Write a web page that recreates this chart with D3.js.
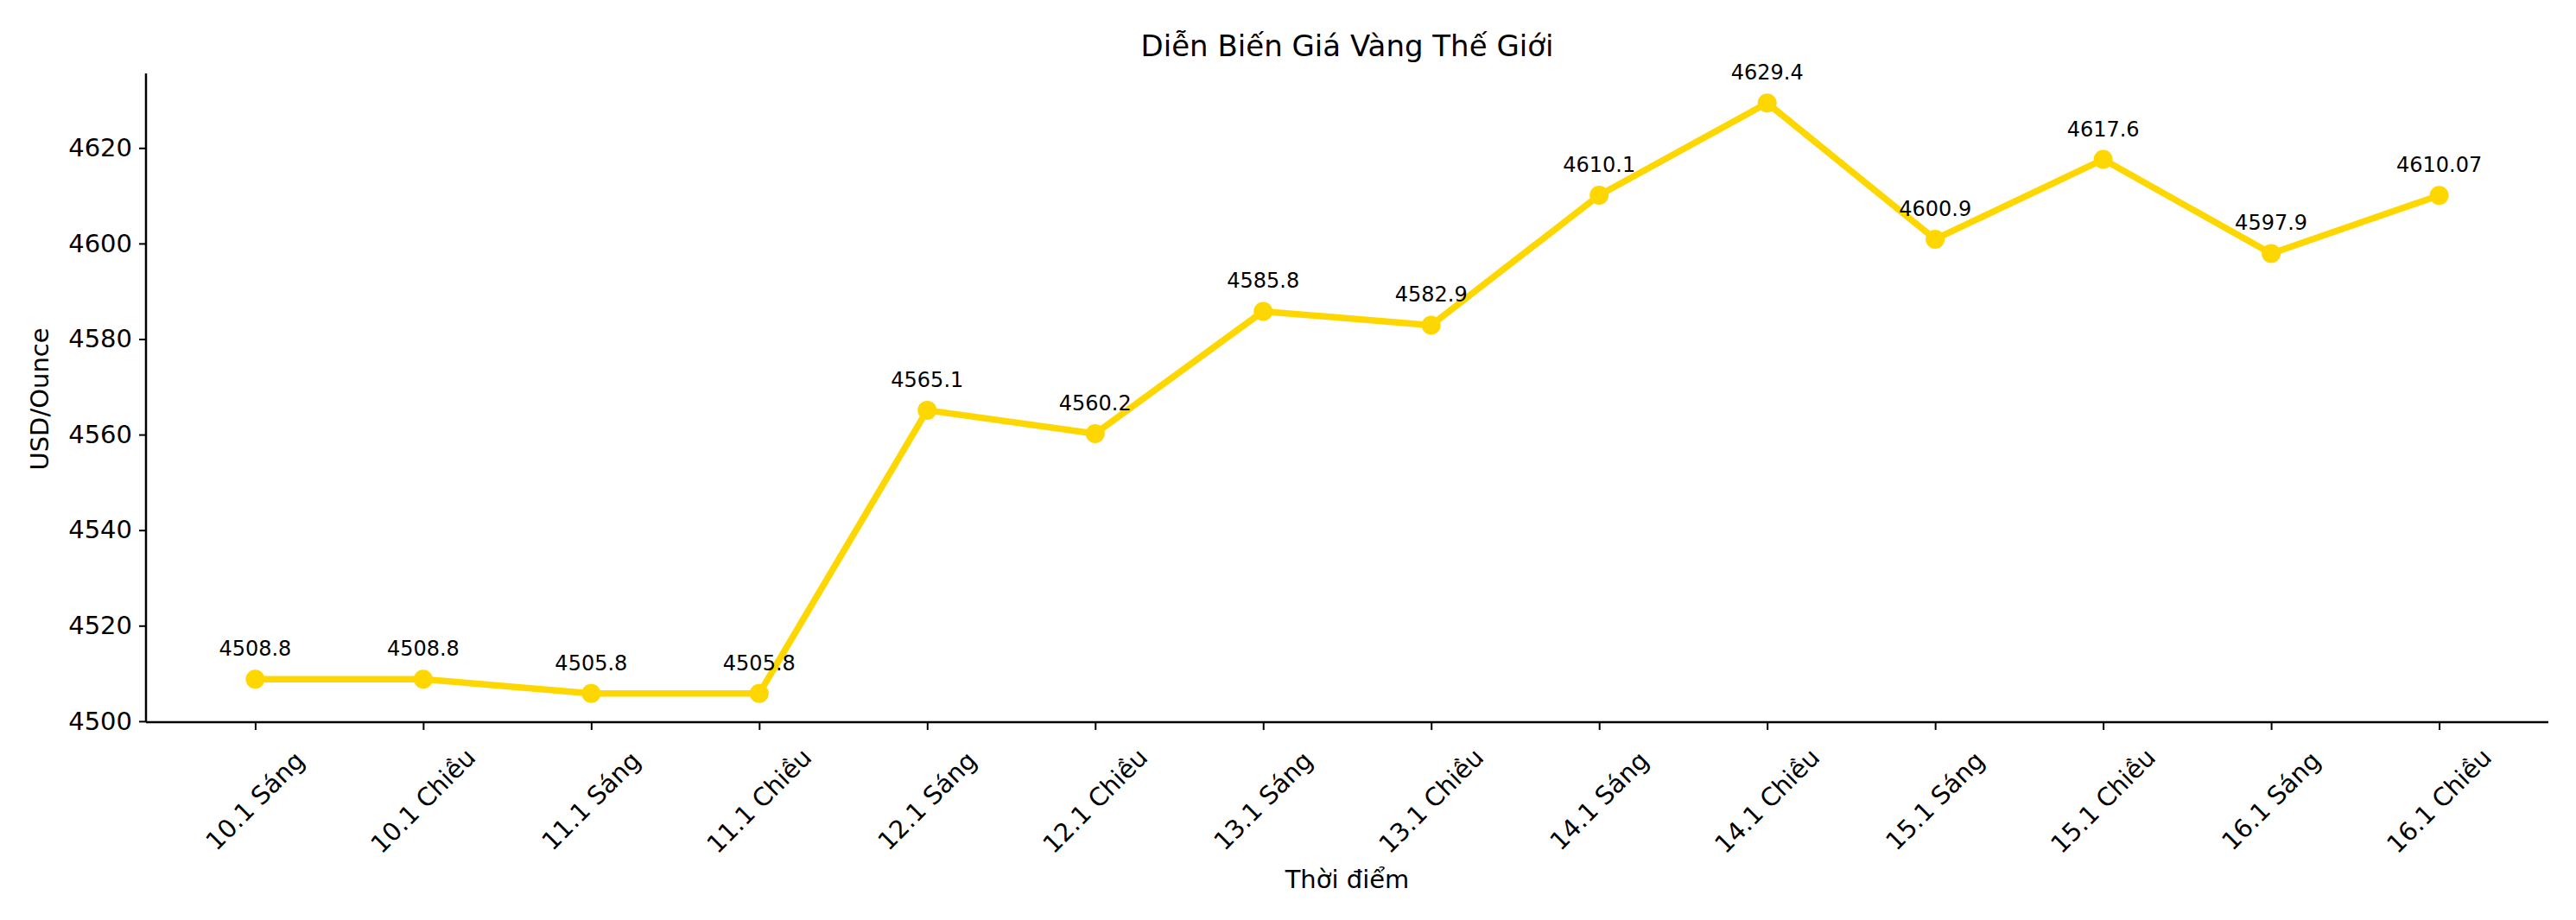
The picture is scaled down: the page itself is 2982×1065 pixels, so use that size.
<!DOCTYPE html>
<html><head><meta charset="utf-8">
<script src="https://cdn.jsdelivr.net/npm/d3@7"></script>
<style>body{margin:0;background:#fff}text{font-family:"DejaVu Sans",sans-serif;fill:#000}</style>
</head><body><svg id="c" width="2982" height="1065"></svg>
<script>
const categories = ["10.1 Sáng","10.1 Chiều","11.1 Sáng","11.1 Chiều","12.1 Sáng","12.1 Chiều","13.1 Sáng","13.1 Chiều","14.1 Sáng","14.1 Chiều","15.1 Sáng","15.1 Chiều","16.1 Sáng","16.1 Chiều"];
const prices = [4508.8,4508.8,4505.8,4505.8,4565.1,4560.2,4585.8,4582.9,4610.1,4629.4,4600.9,4617.6,4597.9,4610.07];
const priceLabels = ["4508.8","4508.8","4505.8","4505.8","4565.1","4560.2","4585.8","4582.9","4610.1","4629.4","4600.9","4617.6","4597.9","4610.07"];
const yTicks = [4500,4520,4540,4560,4580,4600,4620];

const L=169,R=2950,T=85,B=836;
const svg=d3.select("#c");
const x=d3.scalePoint().domain(categories).range([L,R]).padding(0.65);
const y=d3.scaleLinear().domain([4499.8,4635.6]).range([B,T]);

const ya=svg.append("g").attr("transform",`translate(${L},0)`).call(d3.axisLeft(y).tickValues(yTicks).tickFormat(d3.format("d")).tickSize(8).tickPadding(8));
ya.selectAll("text").style("font-size","29px");
ya.select(".domain").attr("stroke-width",2.5).attr("d",`M0,${B}V${T}`);
ya.selectAll(".tick line").attr("stroke-width",2);

const xa=svg.append("g").attr("transform",`translate(0,${B})`).call(d3.axisBottom(x).tickSize(9).tickFormat(""));
xa.select(".domain").attr("stroke-width",2.5).attr("d",`M${L},0H${R}`);
xa.selectAll(".tick line").attr("stroke-width",2);

svg.append("g").selectAll("text").data(categories).join("text")
 .attr("transform",d=>`translate(${x(d)},${B+91}) rotate(-45)`)
 .attr("text-anchor","middle").attr("dominant-baseline","central")
 .style("font-size","29px").text(d=>d);

const line=d3.line().x((d,i)=>x(categories[i])).y(d=>y(d));
svg.append("path").datum(prices).attr("d",line).attr("fill","none")
 .attr("stroke","#FFD700").attr("stroke-width",7.5).attr("stroke-linejoin","round");
svg.append("g").selectAll("circle").data(prices).join("circle")
 .attr("cx",(d,i)=>x(categories[i])).attr("cy",d=>y(d)).attr("r",11).attr("fill","#FFD700");
svg.append("g").selectAll("text").data(prices).join("text")
 .attr("x",(d,i)=>x(categories[i])).attr("y",d=>y(d)-27)
 .attr("text-anchor","middle").style("font-size","24px").text((d,i)=>priceLabels[i]);

svg.append("text").attr("x",(L+R)/2).attr("y",65).attr("text-anchor","middle").style("font-size","34px").text("Diễn Biến Giá Vàng Thế Giới");
svg.append("text").attr("x",(L+R)/2).attr("y",1028).attr("text-anchor","middle").style("font-size","29px").text("Thời điểm");
svg.append("text").attr("transform",`translate(46,462) rotate(-90)`).attr("text-anchor","middle").attr("dominant-baseline","central").style("font-size","29px").text("USD/Ounce");
</script></body></html>
